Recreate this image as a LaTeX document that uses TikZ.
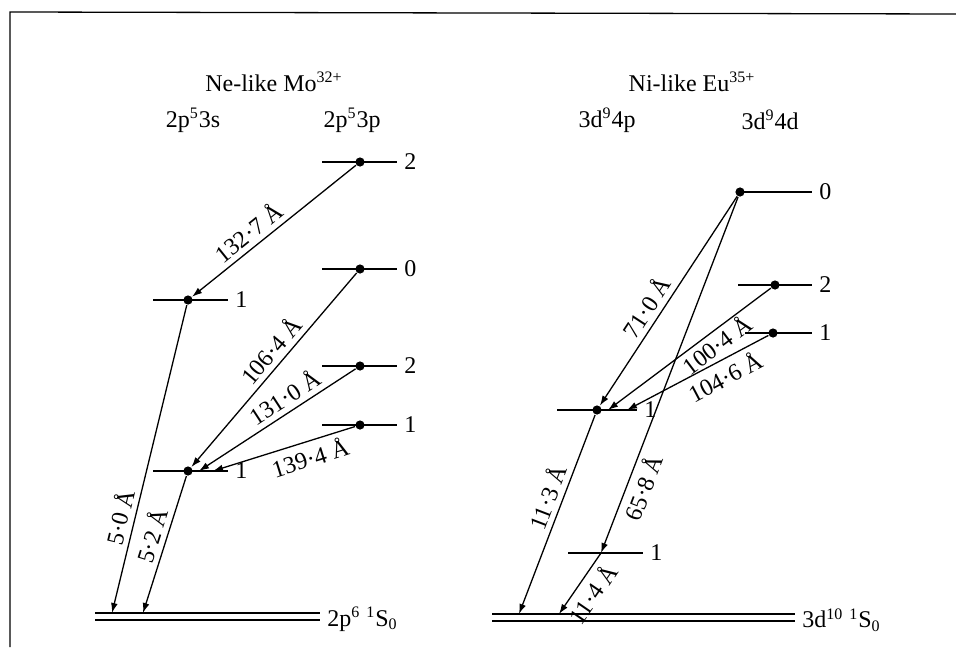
\documentclass[tikz,border=0pt]{standalone}
\usepackage{fontspec}
\setmainfont{Liberation Serif}
\usetikzlibrary{arrows.meta}

\begin{document}
\begin{tikzpicture}[x=0.5pt,y=-0.5pt,line width=0.65pt,font=\fontsize{12}{14}\selectfont,
  dot/.style={circle,fill,inner sep=0pt,minimum size=4.6pt},
  trans/.style={-{Latex[length=5pt,width=3.4pt]}},
  lbl/.style={sloped,inner sep=2.5pt}]
  \useasboundingbox (0,0) rectangle (956,647);
  \draw (10,647) -- (10,12) -- (956,14);
  % Ne-like Mo
  \node (moT) at (274,82) {Ne-like Mo\textsuperscript{32+}};
  \node (mo3s) at (193,120) {2p\textsuperscript{5}3s};
  \node (mo3p) at (352,120) {2p\textsuperscript{5}3p};
  \foreach \n/\xa/\xb/\y/\j in {a2/322/397/162/2,a0/322/397/269/0,b2/322/397/366/2,b1/322/397/425/1,s1/153/228/300/1,s0/153/228/471/1}{
    \draw (\xa,\y) -- (\xb,\y) node[right] (j\n) {\j};
  }
  \node[dot] (a2) at (360,162) {};
  \node[dot] (a0) at (360,269) {};
  \node[dot] (b2) at (360,366) {};
  \node[dot] (b1) at (360,425) {};
  \node[dot] (s1) at (188,300) {};
  \node[dot] (s0) at (188,471) {};
  \draw (95,613) -- (320,613);
  \draw (95,620) -- (320,620);
  \node[right] (moG) at (320,619) {2p\textsuperscript{6} \textsuperscript{1}S\textsubscript{0}};
  \coordinate (e131) at (199,471);
  \coordinate (e139) at (213,471);
  \coordinate (g50) at (112,613);
  \coordinate (g52) at (143,613);
  \draw[trans] (a2) -- (s1) node[lbl,above,pos=0.6] {132·7 Å};
  \draw[trans] (a0) -- (s0) node[lbl,above,pos=0.45] {106·4 Å};
  \draw[trans] (b2) -- (e131) node[lbl,above,pos=0.4] {131·0 Å};
  \draw[trans] (b1) -- (e139) node[lbl,below,pos=0.35] {139·4 Å};
  \draw[trans] (s1) -- (g50) node[lbl,above,pos=0.7] {5·0 Å};
  \draw[trans] (s0) -- (g52) node[lbl,above,pos=0.47] {5·2 Å};
  % Ni-like Eu
  \node (euT) at (692,82) {Ni-like Eu\textsuperscript{35+}};
  \node (eu4p) at (607,120) {3d\textsuperscript{9}4p};
  \node (eu4d) at (770,120) {3d\textsuperscript{9}4d};
  \foreach \n/\xa/\xb/\y/\j in {c0/740/812/192/0,c2/738/812/285/2,c1/745/812/333/1,p1/557/637/410/1,q1/568/643/553/1}{
    \draw (\xa,\y) -- (\xb,\y) node[right] (j\n) {\j};
  }
  \node[dot] (c0) at (740,192) {};
  \node[dot] (c2) at (775,285) {};
  \node[dot] (c1) at (773,333) {};
  \node[dot] (p1) at (597,410) {};
  \coordinate (q1) at (601,553);
  \draw (492,614) -- (795,614);
  \draw (492,621) -- (795,621);
  \node[right] (euG) at (795,620) {3d\textsuperscript{10} \textsuperscript{1}S\textsubscript{0}};
  \coordinate (e100) at (608,410);
  \coordinate (e104) at (627,410);
  \coordinate (g113) at (519,614);
  \coordinate (g114) at (559,614);
  \draw[trans] (c0) -- (p1) node[lbl,above,pos=0.57] {71·0 Å};
  \draw[trans] (c0) -- (q1) node[lbl,below,pos=0.8] {65·8 Å};
  \draw[trans] (c2) -- (e100) node[lbl,below,pos=0.38,inner sep=1pt] {100·4 Å};
  \draw[trans] (c1) -- (e104) node[lbl,below,pos=0.36] {104·6 Å};
  \draw[trans] (p1) -- (g113) node[lbl,above,pos=0.44] {11·3 Å};
  \draw[trans] (q1) -- (g114) node[lbl,below,pos=0.52] {11·4 Å};
\end{tikzpicture}
\end{document}
